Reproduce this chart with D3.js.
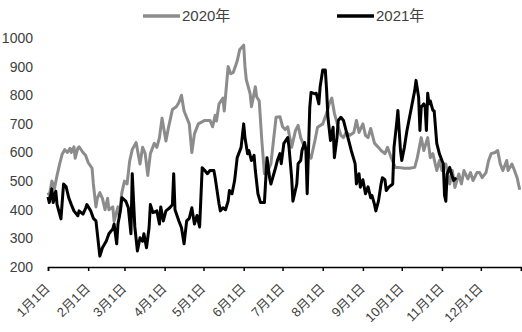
<!DOCTYPE html>
<html>
<head>
<meta charset="utf-8">
<script src="https://cdn.jsdelivr.net/npm/d3@7"></script>
<style>
    body { margin: 0; background: #fff; }
    text { font-family: "Liberation Sans", Arial, "Noto Sans CJK SC", sans-serif; }
</style>
</head>
<body>
<div id="chart"></div>
<script>

// 2020 series (grey)
let dates2020 = [
    "01-01","01-02","01-04","01-06","01-08","01-10","01-12","01-14","01-16","01-18","01-19","01-21","01-22","01-24","01-25","01-28","01-30",
    "02-01","02-04","02-05","02-07","02-08","02-10","02-12","02-14","02-16","02-17","02-20","02-21","02-24","02-25","02-27",
    "03-01","03-03","03-05","03-07","03-10","03-13","03-15","03-17","03-19","03-21","03-24","03-26","03-28","03-30",
    "04-02","04-04","04-07","04-10","04-12","04-14","04-16","04-20","04-22","04-24","04-27",
    "05-02","05-06","05-08","05-10","05-11","05-13","05-16","05-17","05-20","05-22","05-24","05-27","05-29",
    "06-01","06-02","06-03","06-06","06-07","06-10","06-11","06-13","06-15","06-17","06-19","06-22","06-24","06-26","06-29",
    "07-01","07-03","07-05","07-08","07-11","07-13","07-15","07-18","07-21","07-23","07-26","07-28",
    "08-01","08-04","08-06","08-08","08-10","08-13","08-15","08-17","08-19","08-22","08-25","08-27","08-29",
    "09-01","09-03","09-05","09-07","09-10","09-13","09-15","09-18","09-20","09-23","09-26","09-28",
    "10-03","10-07","10-11","10-13","10-16","10-18","10-21","10-23","10-25","10-28","10-30",
    "11-01","11-04","11-07","11-09","11-11","11-14","11-16","11-18","11-21","11-23","11-25","11-28","11-30",
    "12-02","12-05","12-07","12-09","12-12","12-14","12-16","12-18","12-21","12-22","12-25","12-27","12-29","12-31"
]
let values2020 = [
    460,450,500,475,520,560,595,610,600,615,600,620,580,615,620,600,590,
    565,545,490,410,440,460,440,400,440,400,410,360,410,375,460,
    500,490,570,610,635,560,618,596,520,596,632,618,652,720,
    640,688,750,760,775,800,745,700,600,665,700,
    712,712,690,730,710,770,790,745,900,875,880,920,960,
    975,900,855,805,760,830,795,780,642,526,530,560,642,723,725,
    690,680,690,618,677,695,652,618,596,580,642,688,
    700,737,770,790,737,688,660,652,670,660,670,712,670,
    700,660,652,684,632,618,607,596,618,580,548,548,
    545,545,548,582,652,607,652,582,596,537,572,
    537,560,490,537,478,525,490,537,508,530,502,530,530,
    512,530,572,596,600,607,560,537,572,537,560,537,512,470
]

// 2021 series (black)
let dates2021 = [
    "01-01","01-02","01-04","01-05","01-07","01-08","01-11","01-13","01-15","01-17","01-19","01-21","01-24","01-25","01-28","01-30","01-31",
    "02-03","02-05","02-07","02-10","02-12","02-15","02-17","02-20","02-21","02-23","02-24","02-26","02-27",
    "03-02","03-04","03-06","03-07","03-09","03-11","03-13","03-15","03-16","03-18","03-20","03-21","03-23","03-26","03-28","03-29","03-31",
    "04-02","04-05","04-07","04-08","04-09","04-12","04-14","04-16","04-18","04-20","04-22","04-24","04-26","04-28","04-30",
    "05-02","05-04","05-06","05-09","05-10","05-13","05-14","05-16","05-18","05-20","05-21","05-23","05-25","05-27","05-30",
    "06-01","06-02","06-04","06-05","06-07","06-09","06-10","06-12","06-14","06-17","06-19","06-21","06-22","06-25","06-27","06-29","06-30",
    "07-02","07-05","07-06","07-08","07-09","07-12","07-13","07-15","07-16","07-18","07-19","07-20","07-22","07-23","07-26","07-27","07-29","07-30",
    "08-01","08-03","08-04","08-05","08-07","08-09","08-10","08-12","08-13","08-15","08-17","08-19","08-21","08-23","08-26","08-27","08-29","08-30",
    "09-01","09-03","09-05","09-07","09-08","09-10","09-11","09-13","09-15","09-16","09-18","09-19","09-21","09-24","09-25","09-27","09-28","09-30",
    "10-01","10-03","10-05","10-08","10-11","10-12","10-14","10-15","10-16","10-18","10-19","10-20","10-21","10-22","10-23","10-25","10-26","10-28","10-30",
    "11-01","11-02","11-03","11-04","11-05","11-07","11-08","11-10","11-12"
]
let values2021 = [
    445,425,473,425,465,418,368,490,480,442,418,396,379,396,385,405,418,
    396,370,361,238,267,291,316,333,350,281,350,400,442,
    430,407,316,526,340,256,302,290,316,267,337,418,390,396,350,410,361,
    396,407,418,526,400,361,337,281,361,370,407,350,380,340,547,
    537,526,537,537,512,420,396,407,400,430,467,456,502,582,618,
    700,652,596,607,572,590,537,456,425,425,582,512,490,537,572,596,561,
    632,652,618,512,430,490,561,572,607,635,610,456,758,810,805,807,770,830,
    888,888,817,723,642,688,582,652,712,723,712,677,642,607,561,490,526,479,
    505,456,480,442,450,418,396,430,490,512,505,467,479,490,618,700,747,607,
    572,618,677,747,817,852,793,677,758,770,760,677,807,770,780,747,745,632,596,
    572,561,450,430,525,548,530,502,512
]

let seriesNames = ["2020年", "2021年"]
let yTicks = [200, 300, 400, 500, 600, 700, 800, 900, 1000]

let width = 522, height = 332
let margin = {left: 48, right: 1, top: 38, bottom: 65}

let parseDay = d3.timeParse("%m-%d")

let svg = d3.select("#chart").append("svg")
    .attr("width", width)
    .attr("height", height)

// Scales
let xScale = d3.scaleTime()
    .domain([new Date(1900, 0, 1), new Date(1901, 0, 1)])
    .range([margin.left, width - margin.right])

let yScale = d3.scaleLinear()
    .domain([200, 1000])
    .range([height - margin.bottom, margin.top])

// Y axis labels, no axis line
let yAxis = d3.axisLeft(yScale)
    .tickValues(yTicks)
    .tickSize(0)
    .tickPadding(0)
    .tickFormat(d3.format("d"))

let yG = svg.append("g")
    .attr("transform", "translate(33, 0)")
    .call(yAxis)
yG.select(".domain").remove()
yG.selectAll("text")
    .style("font-size", "14px")
    .style("fill", "#404040")

// X axis with a tick at each month start
let monthTicks = d3.timeMonth.range(new Date(1900, 0, 1), new Date(1901, 0, 2))
let xAxis = d3.axisBottom(xScale)
    .tickValues(monthTicks)
    .tickSize(4)
    .tickFormat(d => d.getFullYear() == 1900 ? (d.getMonth() + 1) + "月1日" : "")

let xG = svg.append("g")
    .attr("transform", "translate(0," + (height - margin.bottom) + ")")
    .call(xAxis)
xG.select(".domain").attr("stroke", "#000").attr("stroke-width", 1.5)
xG.selectAll("line").attr("stroke", "#000").attr("stroke-width", 1.5)
xG.selectAll("text")
    .style("font-size", "13px")
    .style("fill", "#404040")
    .attr("text-anchor", "end")
    .attr("transform", "translate(-1, 19) rotate(-45)")
    .attr("dy", "0.35em")
    .attr("y", 0)
    .attr("x", 0)

// Lines
let line = d3.line()
    .x(d => xScale(d.date))
    .y(d => yScale(d.value))

let data2020 = dates2020.map((d, i) => ({date: parseDay(d), value: values2020[i]}))
let data2021 = dates2021.map((d, i) => ({date: parseDay(d), value: values2021[i]}))

svg.append("path")
    .datum(data2020)
    .attr("d", line)
    .attr("fill", "none")
    .attr("stroke", "#8c8c8c")
    .attr("stroke-width", 3)
    .attr("stroke-linejoin", "round")

svg.append("path")
    .datum(data2021)
    .attr("d", line)
    .attr("fill", "none")
    .attr("stroke", "#000")
    .attr("stroke-width", 3)
    .attr("stroke-linejoin", "round")

// Legend
let legendColours = ["#8c8c8c", "#000"]
let legendX = [143, 337]
let legend = svg.append("g")

seriesNames.forEach((name, i) => {
    legend.append("line")
        .attr("x1", legendX[i])
        .attr("x2", legendX[i] + 37)
        .attr("y1", 16)
        .attr("y2", 16)
        .attr("stroke", legendColours[i])
        .attr("stroke-width", 3.5)
    legend.append("text")
        .attr("x", legendX[i] + 39)
        .attr("y", 16)
        .attr("dy", "0.35em")
        .style("font-size", "15px")
        .style("fill", "#404040")
        .text(name)
})

</script>
</body>
</html>
